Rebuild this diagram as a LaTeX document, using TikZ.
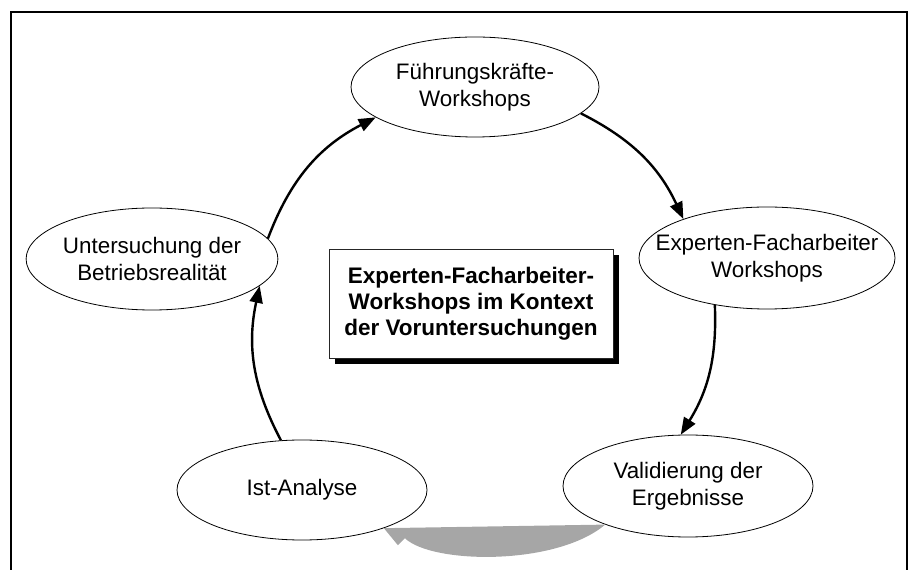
\documentclass[tikz,border=0pt]{standalone}
\usepackage{fontspec}
\setmainfont{Liberation Sans}
\usetikzlibrary{shapes.geometric,arrows.meta,calc,shadows}
\definecolor{arrowgray}{RGB}{166,166,166}
\begin{document}
\begin{tikzpicture}[x=1pt,y=1pt,
  stage/.style={ellipse,draw,line width=0.8pt,inner sep=0pt,align=center,
    font=\fontsize{22.4}{26.5}\selectfont},
  flow/.style={line width=2.4pt,-{Triangle[length=17pt,width=13pt]}},
  titlebox/.style={draw=black!85,fill=white,line width=0.8pt,inner sep=0pt,
    align=center,font=\bfseries\fontsize{22.5}{26}\selectfont,
    drop shadow={shadow xshift=6pt,shadow yshift=-6pt,fill=black,opacity=1}},
  frame/.style={line width=1.8pt}]
\useasboundingbox (0,0) rectangle (910,570);

% open frame (no bottom edge)
\draw[frame] (11,-5) -- (11,558) -- (907,558) -- (907,-5);

% stages of the cycle
\node[stage,minimum width=248pt,minimum height=100pt] (F) at (475,483) {Führungskräfte-\\Workshops};
\node[stage,minimum width=250pt,minimum height=102pt] (U) at (152,311) {Untersuchung der\\Betriebsrealität};
\node[stage,inner xsep=-28pt,minimum width=256pt,minimum height=102pt] (E) at (767,312) {Experten-Facharbeiter\\Workshops};
\node[stage,minimum width=250pt,minimum height=102pt] (V) at (688,84) {Validierung der\\Ergebnisse};
\node[stage,minimum width=250pt,minimum height=100pt] (I) at (302,80) {Ist-Analyse};

% central title
\node[titlebox,minimum width=284pt,minimum height=109pt] (B) at (471,266.5)
  {Experten-Facharbeiter-\\Workshops im Kontext\\der Voruntersuchungen};

% cycle arrows
\draw[flow] (U.10) to[bend left=21] (F.197);
\draw[flow] (F.346) to[bend left=19] (E.155);
\draw[flow] (E.222) to[bend left=17] (V.98);
\draw[flow] (I.113) to[bend left=20] (U.346);

% broad grey return arrow
\fill[arrowgray] (V.205) -- (I.335) -- ($(I.335)+(14,-17)$) -- ($(I.335)+(21,-10)$)
  .. controls ($(I.335)+(48,-36)$) and ($(I.335)+(172,-38)$) .. (V.205) -- cycle;
\end{tikzpicture}
\end{document}
